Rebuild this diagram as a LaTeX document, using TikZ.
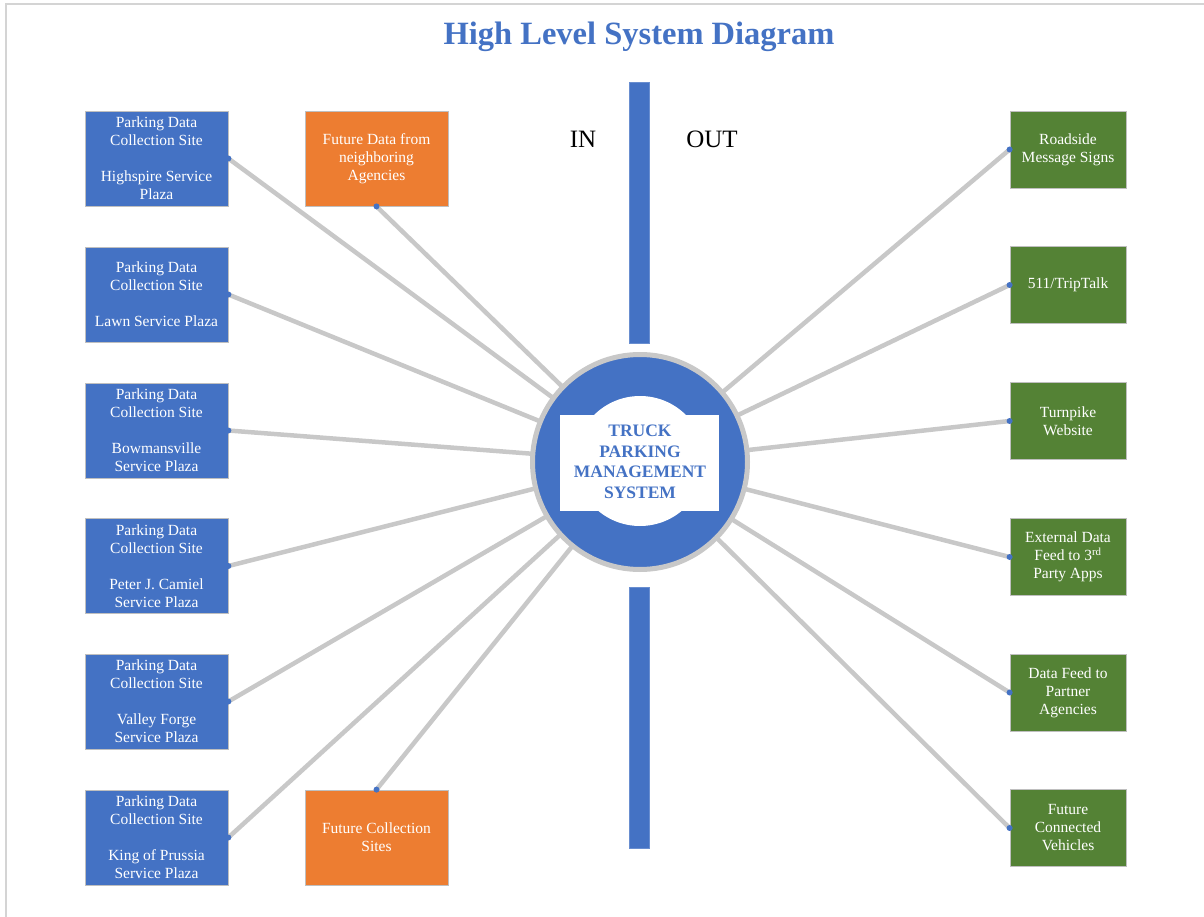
\documentclass[tikz,border=0pt]{standalone}
\usepackage{fontspec}
\setmainfont{Liberation Serif}
\definecolor{pblue}{HTML}{4472C4}
\definecolor{porange}{HTML}{ED7D31}
\definecolor{pgreen}{HTML}{548235}
\definecolor{lgray}{HTML}{C8C8C8}
\definecolor{bgray}{HTML}{BFBFBF}
\definecolor{fgray}{HTML}{D4D4D4}
\tikzset{
  sbox/.style={draw=bgray, line width=0.8pt, inner sep=0pt, align=center, text=white,
    font=\fontsize{15.5}{18}\selectfont},
  lbox/.style={sbox, fill=pblue, minimum width=143pt, minimum height=95pt},
  obox/.style={sbox, fill=porange, minimum width=143pt, minimum height=95pt},
  rbox/.style={sbox, fill=pgreen, minimum width=116pt, minimum height=77pt},
  conn/.style={draw=lgray, line width=4.5pt},
  barbox/.style={fill=pblue, draw=pblue!80!white, line width=0.5pt, minimum width=20pt, minimum height=261pt, inner sep=0pt},
  iolabel/.style={font=\fontsize{25}{28}\selectfont},
}
\begin{document}
\begin{tikzpicture}[x=1pt,y=-1pt]
\useasboundingbox (0,0) rectangle (1204,917);
\draw[fgray, line width=1.2pt] (6,917) -- (6,4) -- (1204,4);

\node[font=\bfseries\fontsize{32.5}{34}\selectfont, text=pblue] (title) at (639,37) {High Level System Diagram};

\node[barbox] (topbar) at (639,212.5) {};
\node[barbox] (botbar) at (639,717.5) {};
\node[iolabel] (in) at (583,139) {IN};
\node[iolabel] (out) at (712,139) {OUT};

% left boxes
\node[lbox] (l1) at (156.5,158.5) {Parking Data\\Collection Site\\[18pt]Highspire Service\\Plaza};
\node[lbox] (l2) at (156.5,294.5) {Parking Data\\Collection Site\\[18pt]Lawn Service Plaza};
\node[lbox] (l3) at (156.5,430.5) {Parking Data\\Collection Site\\[18pt]Bowmansville\\Service Plaza};
\node[lbox] (l4) at (156.5,566) {Parking Data\\Collection Site\\[18pt]Peter J. Camiel\\Service Plaza};
\node[lbox] (l5) at (156.5,701.5) {Parking Data\\Collection Site\\[18pt]Valley Forge\\Service Plaza};
\node[lbox] (l6) at (156.5,837.5) {Parking Data\\Collection Site\\[18pt]King of Prussia\\Service Plaza};
\node[obox] (o1) at (376.5,158.5) {Future Data from\\neighboring\\Agencies};
\node[obox] (o2) at (376.5,837.5) {Future Collection\\Sites};

% right boxes
\node[rbox] (r1) at (1068,149.5) {Roadside\\Message Signs};
\node[rbox] (r2) at (1068,285) {511/TripTalk};
\node[rbox] (r3) at (1068,421) {Turnpike\\Website};
\node[rbox] (r4) at (1068,557) {External Data\\Feed to 3\textsuperscript{rd}\\Party Apps};
\node[rbox] (r5) at (1068,692.5) {Data Feed to\\Partner\\Agencies};
\node[rbox] (r6) at (1068,828) {Future\\Connected\\Vehicles};

\coordinate (cc) at (640,462);

% connectors
\foreach \n in {l1,l2,l3,l4,l5,l6} {\draw[conn] (\n.east) -- (cc); \fill[pblue] (\n.east) circle (3pt);}
\foreach \n in {r1,r2,r3,r4,r5,r6} {\draw[conn] (\n.west) -- (cc); \fill[pblue] (\n.west) circle (3pt);}
\draw[conn] (o1.south) -- (cc); \fill[pblue] (o1.south) circle (3pt);
\draw[conn] (o2.north) -- (cc); \fill[pblue] (o2.north) circle (3pt);

% hub
\node[circle, fill=pblue, draw=lgray, line width=5pt, minimum size=215pt, inner sep=0pt] (hub) at (cc) {};
\fill[white] (560,415) rectangle (719,511);
\fill[white] (640,461) circle (65pt);
\node[align=center, text=pblue, font=\bfseries\fontsize{17.5}{20.5}\selectfont] (hubtext) at (640,462) {TRUCK\\PARKING\\MANAGEMENT\\SYSTEM};
\end{tikzpicture}
\end{document}
